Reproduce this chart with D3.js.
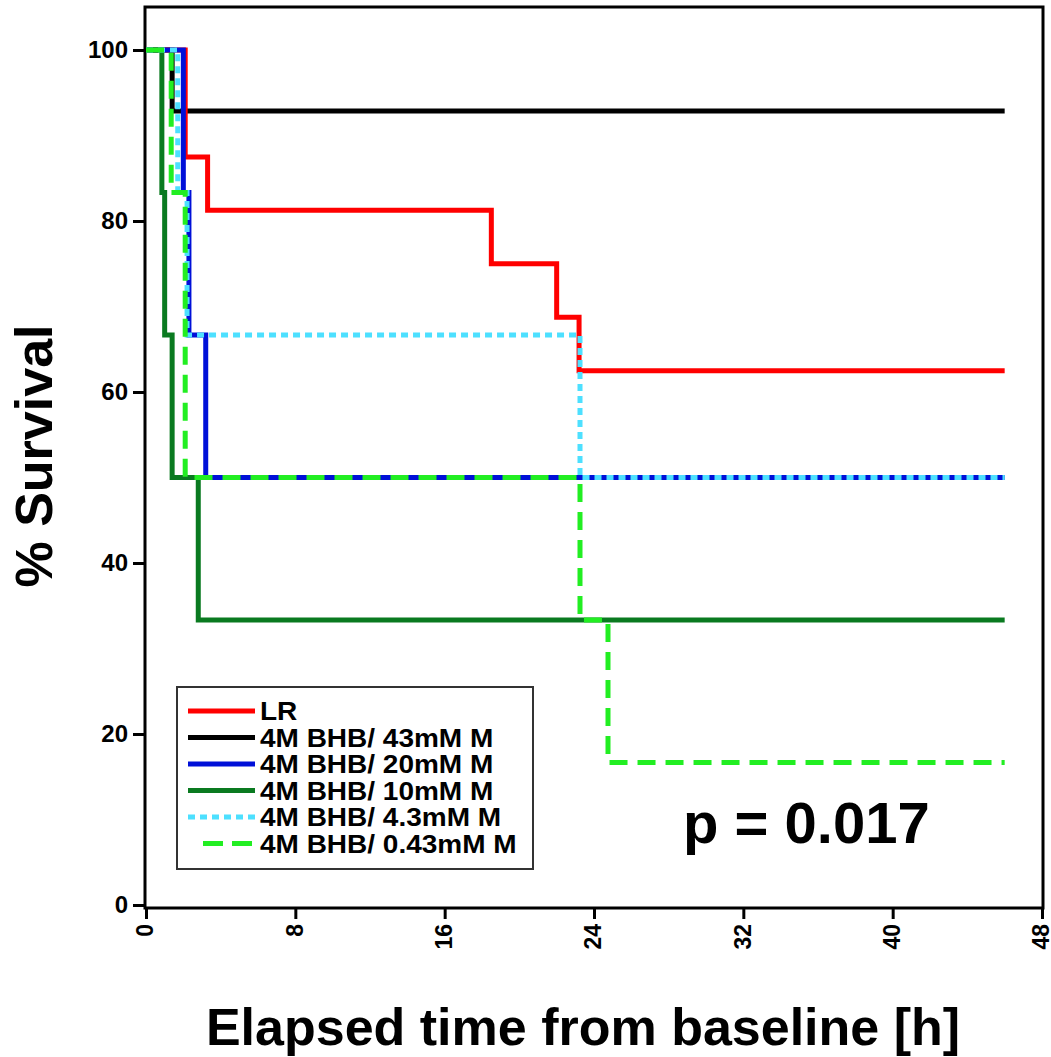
<!DOCTYPE html>
<html>
<head>
<meta charset="utf-8">
<script src="https://cdn.jsdelivr.net/npm/d3@7"></script>
<style>
  body { margin: 0; background: #fff; }
  svg { font-family: "Liberation Sans", Arial, Helvetica, sans-serif; font-weight: bold; }
</style>
</head>
<body>
<div id="chart"></div>
<script>
// survival curves: change points (hours) and % survival after each change
const seriesNames = ["LR", "4M BHB/ 43mM M", "4M BHB/ 20mM M", "4M BHB/ 10mM M", "4M BHB/ 4.3mM M", "4M BHB/ 0.43mM M"];
const timesLR = [0, 2.1, 3.3, 18.5, 22.0, 23.2, 46];
const survLR = [100, 87.5, 81.25, 75, 68.75, 62.5, 62.5];
const times43 = [0, 1.4, 46];
const surv43 = [100, 92.86, 92.86];
const times20 = [0, 2.0, 2.3, 3.2, 46];
const surv20 = [100, 83.33, 66.67, 50, 50];
const times10 = [0, 0.85, 1.0, 1.4, 2.8, 46];
const surv10 = [100, 83.33, 66.67, 50, 33.33, 33.33];
const times4 = [0, 1.7, 2.2, 23.25, 46];
const surv4 = [100, 83.33, 66.67, 50, 50];
const times04 = [0, 1.35, 2.1, 23.25, 24.75, 46];
const surv04 = [100, 83.33, 50, 33.33, 16.67, 16.67];

const xTicks = [0, 8, 16, 24, 32, 40, 48];
const yTicks = [0, 20, 40, 60, 80, 100];
const pText = "p = 0.017";

// drawing order: black under everything, light green on top
const series = [
  { name: seriesNames[1], t: times43, s: surv43, color: "#000000", dash: null, row: 1 },
  { name: seriesNames[0], t: timesLR, s: survLR, color: "#ff0000", dash: null, row: 0 },
  { name: seriesNames[2], t: times20, s: surv20, color: "#0010d8", dash: null, row: 2 },
  { name: seriesNames[3], t: times10, s: surv10, color: "#0a7a20", dash: null, row: 3 },
  { name: seriesNames[4], t: times4, s: surv4, color: "#4de0ff", dash: "7,5", row: 4 },
  { name: seriesNames[5], t: times04, s: surv04, color: "#22ee22", dash: "18,10", row: 5 }
];

const W = 1051, H = 1057;
const svg = d3.select("#chart").append("svg").attr("width", W).attr("height", H);

const x = d3.scaleLinear().domain([0, 48]).range([146, 1042]);
const y = d3.scaleLinear().domain([0, 100]).range([905, 50]);

// frame
svg.append("rect")
  .attr("x", 145).attr("y", 7)
  .attr("width", 898).attr("height", 901)
  .attr("fill", "none").attr("stroke", "#000").attr("stroke-width", 3);

// y axis
const yAxis = svg.append("g")
  .attr("transform", "translate(145,0)")
  .call(d3.axisLeft(y).tickValues(yTicks).tickSize(12).tickPadding(5));
yAxis.select(".domain").remove();
yAxis.selectAll("line").attr("stroke-width", 3);
yAxis.selectAll("text").attr("font-size", 24).attr("font-weight", "bold").attr("fill", "#000")
  .attr("font-family", "Liberation Sans, Arial, sans-serif");

// x axis
const xAxis = svg.append("g")
  .attr("transform", "translate(0,908)")
  .call(d3.axisBottom(x).tickValues(xTicks).tickSize(11));
xAxis.select(".domain").remove();
xAxis.selectAll("line").attr("stroke-width", 3);
xAxis.selectAll("text")
  .attr("font-size", 23).attr("font-weight", "bold").attr("fill", "#000")
  .attr("font-family", "Liberation Sans, Arial, sans-serif")
  .attr("text-anchor", "end")
  .attr("transform", "rotate(-90)")
  .attr("x", -16).attr("y", 0).attr("dy", "0.3em");

// curves
const line = d3.line()
  .x(d => x(d[0]))
  .y(d => y(d[1]))
  .curve(d3.curveStepAfter);

svg.selectAll("path.curve")
  .data(series)
  .enter().append("path")
  .attr("class", "curve")
  .attr("d", d => line(d.t.map((t, i) => [t, d.s[i]])))
  .attr("fill", "none")
  .attr("stroke", d => d.color)
  .attr("stroke-width", 5)
  .attr("stroke-dasharray", d => d.dash);

// legend
const legend = svg.append("g");
legend.append("rect")
  .attr("x", 177).attr("y", 687).attr("width", 356).attr("height", 182)
  .attr("fill", "#fff").attr("stroke", "#333").attr("stroke-width", 2);

const rows = legend.selectAll("g.row")
  .data(series.slice().sort((a, b) => a.row - b.row))
  .enter().append("g")
  .attr("class", "row")
  .attr("transform", d => `translate(0,${711 + d.row * 26.5})`);

rows.append("line")
  .attr("x1", d => d.row === 5 ? 203 : 188).attr("x2", 255)
  .attr("y1", 0).attr("y2", 0)
  .attr("stroke", d => d.color)
  .attr("stroke-width", 5)
  .attr("stroke-dasharray", d => d.row === 5 ? "20,9" : d.dash);

rows.append("text")
  .attr("transform", "translate(260,9) scale(1.12,1)")
  .attr("font-size", 25)
  .text(d => d.name);

// p value
svg.append("text")
  .attr("x", 683).attr("y", 843)
  .attr("font-size", 58)
  .text(pText);

// axis titles
svg.append("text")
  .attr("transform", "translate(52,456) rotate(-90)")
  .attr("text-anchor", "middle")
  .attr("font-size", 52)
  .text("% Survival");

svg.append("text")
  .attr("x", 583).attr("y", 1045)
  .attr("text-anchor", "middle")
  .attr("font-size", 52)
  .text("Elapsed time from baseline [h]");
</script>
</body>
</html>
